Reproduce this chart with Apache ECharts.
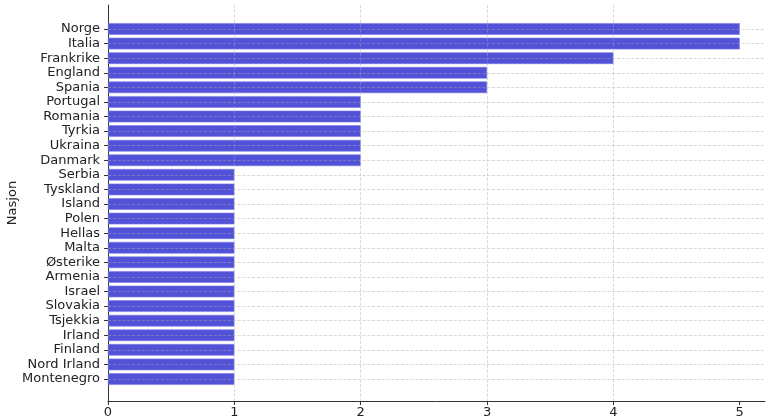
<!DOCTYPE html>
<html><head><meta charset="utf-8">
<script src="https://cdn.jsdelivr.net/npm/echarts@6/dist/echarts.min.js"></script>
<style>html,body{margin:0;padding:0;background:#fff}#c{width:768px;height:419px}</style>
</head><body><div id="c"></div>
<script>
const categories = ['Norge','Italia','Frankrike','England','Spania','Portugal','Romania','Tyrkia','Ukraina','Danmark','Serbia','Tyskland','Island','Polen','Hellas','Malta','Østerike','Armenia','Israel','Slovakia','Tsjekkia','Irland','Finland','Nord Irland','Montenegro'];
const values = [5,5,4,3,3,2,2,2,2,2,1,1,1,1,1,1,1,1,1,1,1,1,1,1,1];
const xTicks = [0,1,2,3,4,5];

const font = 'DejaVu Sans';
const chart = echarts.init(document.getElementById('c'));
const grid = {type:'dashed', color:'rgba(170,170,170,0.55)', width:0.8};
chart.setOption({
  animation:false,
  grid:[
    {left:108, right:3, top:5, bottom:18, containLabel:false, outerBoundsMode:'none'},
    {left:108, right:3, top:29, bottom:40, containLabel:false, outerBoundsMode:'none'}
  ],
  xAxis:[
    {gridIndex:0, type:'value', min:0, max:5.2, interval:1,
     axisLine:{show:true, lineStyle:{color:'#333', width:1}},
     axisTick:{show:true, length:4, lineStyle:{color:'#333'}, customValues:xTicks},
     axisLabel:{fontFamily:font, fontSize:13, color:'#222', margin:5, customValues:xTicks},
     splitLine:{show:true, showMaxLine:false, showMinLine:false, lineStyle:grid}, z:3},
    {gridIndex:1, type:'value', min:0, max:5.2, show:false}
  ],
  yAxis:[
    {gridIndex:0, type:'value', min:0, max:1, name:'Nasjon', nameLocation:'middle', nameGap:89,
     nameTextStyle:{fontFamily:font, fontSize:13, color:'#222'},
     axisLine:{show:true, onZero:false, lineStyle:{color:'#333', width:1}},
     axisTick:{show:false}, axisLabel:{show:false}, splitLine:{show:false}},
    {gridIndex:1, type:'category', inverse:true, boundaryGap:false, data:categories,
     axisLine:{show:false},
     axisTick:{show:true, length:4, lineStyle:{color:'#333'}},
     axisLabel:{fontFamily:font, fontSize:13, color:'#222', margin:8, interval:0},
     splitLine:{show:true, interval:0, lineStyle:grid}, z:3}
  ],
  series:[{
    type:'bar', xAxisIndex:1, yAxisIndex:1, data:values, barWidth:'80%', clip:false,
    itemStyle:{color:'#5252d8', borderColor:'#7a7ae6', borderWidth:0.6}
  }]
});
</script></body></html>
